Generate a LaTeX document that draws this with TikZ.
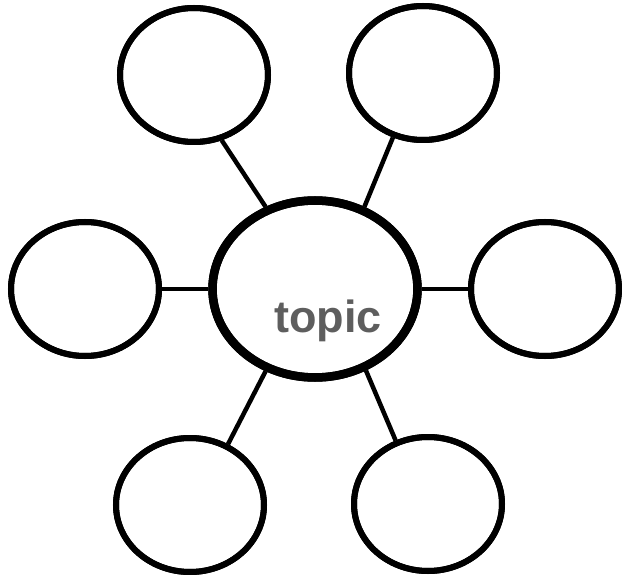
\documentclass[tikz,border=0pt]{standalone}
\usepackage{fontspec}
\setmainfont{Liberation Sans}
\usetikzlibrary{shapes.geometric}
\definecolor{topicgray}{HTML}{5E5E5E}
\begin{document}
\begin{tikzpicture}[x=1pt,y=-1pt,
  bubble/.style={ellipse,draw=black,fill=white,line width=6pt,inner sep=0pt,minimum width=148pt,minimum height=134pt},
  hub/.style={ellipse,draw=black,fill=white,line width=8.5pt,inner sep=0pt,minimum width=205pt,minimum height=177pt},
  link/.style={draw=black,line width=4.5pt},
  label/.style={font=\bfseries\fontsize{45}{45}\selectfont,text=topicgray,inner sep=0pt,anchor=base}]
\useasboundingbox (0,0) rectangle (622,575);
\path[fill=white] (0,0) rectangle (622,575);
% nodes
\node[hub] (c) at (315,289) {};
\node[bubble] (tl) at (194,75) {};
\node[bubble] (tr) at (423,73) {};
\node[bubble] (l) at (85,289) {};
\node[bubble] (r) at (545,289) {};
\node[bubble] (bl) at (190,505) {};
\node[bubble] (br) at (428,504) {};
% connectors
\draw[link] (tl.-67) -- (c.121);
\draw[link] (tr.-115) -- (c.59);
\draw[link] (l.east) -- (c.west);
\draw[link] (r.west) -- (c.east);
\draw[link] (bl.58) -- (c.239);
\draw[link] (br.117) -- (c.-58);
% redraw outlines on top of connector ends
\draw[line width=8.5pt] (c.center) ellipse [x radius=102.5pt,y radius=88.5pt];
\foreach \n in {tl,tr,l,r,bl,br}{\draw[line width=6pt] (\n.center) ellipse [x radius=74pt,y radius=67pt];}
\node[label] (t) at (328,332) {topic};
\end{tikzpicture}
\end{document}
